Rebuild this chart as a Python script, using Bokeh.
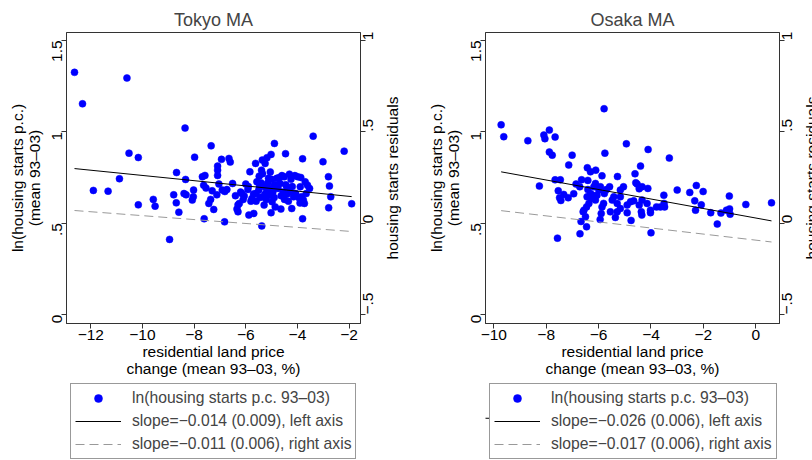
import math
import numpy as np
from bokeh.plotting import figure
from bokeh.models import Range1d, LinearAxis, FixedTicker, Legend, LegendItem
from bokeh.core.properties import value
from bokeh.layouts import row, column
from bokeh.embed import file_html
from bokeh.resources import INLINE

FONT = "Liberation Sans"

# ---------------- data ----------------
tokyo_x = [
    -12.63, -12.32, -10.60, -10.52, -10.16, -10.89, -11.90, -11.33, -10.16, -9.58,
    -9.51, -8.95, -8.79, -8.68, -8.69, -8.59, -8.39, -8.31, -8.33, -8.35,
    -8.07, -8.02, -8.03, -7.98, -7.68, -7.58, -7.61, -7.63, -7.54, -7.43,
    -7.36, -7.24, -7.34, -7.30, -7.12, -7.09, -7.09, -7.09, -6.94, -7.04,
    -6.91, -6.81, -6.73, -6.82, -6.65, -6.60, -6.51, -6.34, -6.30, -6.25,
    -6.15, -6.06, -6.00, -5.92, -5.84, -5.88, -5.76, -5.69, -5.61, -5.62,
    -5.57, -5.48, -5.47, -5.39, -5.36, -5.25, -5.18, -5.02, -5.38, -5.34,
    -5.29, -5.18, -5.12, -5.05, -5.02, -4.98, -4.90, -4.86, -4.80, -4.67,
    -4.63, -4.64, -4.51, -4.41, -4.46, -4.31, -4.28, -4.22, -4.15, -4.07,
    -3.99, -3.89, -3.87, -3.80, -3.80, -3.77, -3.73, -3.70, -3.61, -3.53,
    -3.66, -3.84, -3.01, -2.80, -2.76, -2.71, -2.79, -2.19, -1.90, -3.39,
    -4.89,
    -5.70, -5.60, -5.50, -5.45, -5.40, -5.30, -5.25, -5.20, -5.15, -5.10,
    -5.00, -4.95, -4.90, -4.85, -4.75, -4.70, -4.60, -4.55, -4.50, -4.40,
    -4.35, -4.25, -4.20, -4.10, -3.95, -3.90, -6.20, -6.10, -6.30, -5.90,
    -5.80, -6.40, -5.35, -5.05, -4.45,
]
tokyo_y = [
    1.325, 1.153, 1.294, 0.883, 0.859, 0.743, 0.679, 0.675, 0.600, 0.630,
    0.593, 0.411, 0.655, 0.777, 0.611, 0.560, 0.662, 0.655, 0.739, 1.020,
    0.626, 0.681, 0.644, 0.861, 0.754, 0.761, 0.524, 0.708, 0.692, 0.608,
    0.630, 0.575, 0.923, 0.677, 0.655, 0.812, 0.790, 0.761, 0.849, 0.714,
    0.681, 0.673, 0.684, 0.507, 0.854, 0.834, 0.717, 0.577, 0.562, 0.608,
    0.662, 0.648, 0.714, 0.684, 0.781, 0.544, 0.635, 0.553, 0.662, 0.827,
    0.726, 0.757, 0.699, 0.790, 0.845, 0.827, 0.858, 0.876, 0.485, 0.644,
    0.599, 0.681, 0.745, 0.653, 0.557, 0.617, 0.708, 0.589, 0.745, 0.717,
    0.650, 0.577, 0.754, 0.699, 0.880, 0.768, 0.672, 0.580, 0.644, 0.662,
    0.754, 0.699, 0.750, 0.524, 0.852, 0.626, 0.608, 0.726, 0.708, 0.690,
    0.662, 0.644, 0.836, 0.754, 0.703, 0.644, 0.584, 0.894, 0.606, 0.976,
    0.936,
    0.66, 0.62, 0.68, 0.64, 0.72, 0.70, 0.66, 0.63, 0.72, 0.69,
    0.74, 0.67, 0.64, 0.71, 0.69, 0.75, 0.76, 0.67, 0.63, 0.66,
    0.62, 0.74, 0.70, 0.76, 0.64, 0.61, 0.67, 0.63, 0.60, 0.70,
    0.62, 0.65, 0.77, 0.78, 0.71,
]

osaka_x = [
    -9.72, -9.62, -8.70, -8.09, -8.05, -7.88, -7.66, -7.88, -7.77, -7.01,
    -7.14, -5.79, -5.76, -4.94, -4.11, -3.30, -4.40, -8.26, -7.66, -7.46,
    -7.54, -7.49, -7.44, -7.33, -7.16, -6.95, -6.86, -6.72, -6.65, -6.43,
    -6.31, -6.11, -6.41, -5.87, -5.28, -4.61, -4.58, -4.53, -4.45, -4.34,
    -4.12, -7.57, -6.71, -6.46, -6.67, -5.94, -5.36, -4.76, -4.00, -4.02,
    -3.00, -2.52, -2.27, -2.01, -2.33, -2.30, -2.08, -1.72, -1.47, -1.33,
    -1.12, -1.01, -1.00, -0.98, -0.38, 0.60, -3.51, -3.50, -3.48, -3.79,
    -3.64, -4.02, -4.37, -4.35, -4.34, -4.45, -4.66, -4.78, -4.91, -5.17,
    -5.29, -5.48, -5.42, -5.17, -5.55, -5.58, -5.70, -5.78, -5.81, -5.87,
    -5.90, -5.93, -5.99, -6.06, -6.12, -6.18, -6.23, -6.28, -6.37, -6.44,
    -6.46, -6.56, -6.59, -6.50, -6.41, -6.31, -6.12, -5.05, -5.29, -4.91,
    -4.15, -5.17,
]
osaka_y = [
    1.038, 0.973, 0.951, 0.982, 0.962, 1.009, 0.971, 0.889, 0.872, 0.872,
    0.818, 1.126, 0.883, 0.934, 0.903, 0.856, 0.812, 0.703, 0.737, 0.737,
    0.677, 0.639, 0.624, 0.657, 0.639, 0.661, 0.714, 0.699, 0.737, 0.803,
    0.781, 0.790, 0.734, 0.759, 0.755, 0.770, 0.721, 0.714, 0.688, 0.699,
    0.690, 0.418, 0.442, 0.480, 0.509, 0.520, 0.531, 0.515, 0.447, 0.557,
    0.681, 0.668, 0.706, 0.673, 0.622, 0.571, 0.600, 0.557, 0.495, 0.555,
    0.571, 0.648, 0.578, 0.549, 0.602, 0.611, 0.653, 0.608, 0.589, 0.589,
    0.589, 0.571, 0.562, 0.544, 0.626, 0.599, 0.622, 0.617, 0.557, 0.580,
    0.562, 0.626, 0.644, 0.644, 0.562, 0.699, 0.684, 0.662, 0.608, 0.589,
    0.553, 0.699, 0.681, 0.653, 0.626, 0.699, 0.653, 0.635, 0.608, 0.644,
    0.589, 0.571, 0.562, 0.535, 0.684, 0.662, 0.717, 0.699, 0.608, 0.599,
    0.608, 0.681,
]

# fitted lines (intercept, slope)
tokyo_fit_left = [0.618, -0.0143]
tokyo_fit_right = [-0.066, -0.0107]
osaka_fit_left = [0.528, -0.0260]
osaka_fit_right = [-0.093, -0.0166]

left_ticks = [0, 0.5, 1, 1.5]
left_tick_labels = ["0", ".5", "1", "1.5"]
right_ticks = [-0.5, 0, 0.5, 1]
right_tick_labels = ["\u2212.5", "0", ".5", "1"]

tokyo_x_ticks = [-12, -10, -8, -6, -4, -2]
tokyo_x_tick_labels = ["\u221212", "\u221210", "\u22128", "\u22126", "\u22124", "\u22122"]
osaka_x_ticks = [-10, -8, -6, -4, -2, 0]
osaka_x_tick_labels = ["\u221210", "\u22128", "\u22126", "\u22124", "\u22122", "0"]

tokyo_legend = ["ln(housing starts p.c. 93\u201303)",
                "slope=\u22120.014 (0.009), left axis",
                "slope=\u22120.011 (0.006), right axis"]
osaka_legend = ["ln(housing starts p.c. 93\u201303)",
                "slope=\u22120.026 (0.006), left axis",
                "slope=\u22120.017 (0.006), right axis"]

x_title = "residential land price\nchange (mean 93\u201303, %)"
left_title = "ln(housing starts p.c.)\n(mean 93\u201303)"
right_title = "housing starts residuals"

LEFT_RANGE = (-0.049, 1.543)
RIGHT_RANGE = (-0.549, 1.043)
MAIN_H = 380
LEG_H = 80
TOTAL_H = MAIN_H + LEG_H
FRAME_TOP = 32
FRAME_BOTTOM = 323

DOT = dict(size=7, fill_color="#0000ff", line_color="#0000ff", line_width=0.5)
SOLID = dict(line_color="black", line_width=1)
DASHED = dict(line_color="#999999", line_width=1, line_dash="9 5")


def style_axis(ax, ticks, labels):
    ax.ticker = FixedTicker(ticks=ticks)
    ax.major_label_overrides = dict(zip(ticks, labels))
    ax.major_tick_in = 0
    ax.major_tick_out = 5
    ax.minor_tick_in = 0
    ax.minor_tick_out = 0
    ax.axis_line_color = "#333333"
    ax.major_tick_line_color = "#333333"
    ax.major_label_text_font = FONT
    ax.major_label_text_font_size = "15.5px"
    ax.major_label_text_color = "black"
    ax.axis_label_text_font = FONT
    ax.axis_label_text_font_size = "15.5px"
    ax.axis_label_text_font_style = "normal"
    ax.axis_label_text_color = "black"
    ax.axis_label_text_line_height = 1.0


def fit_lines(xs, fit_l, fit_r):
    xx = np.array([min(xs), max(xs)])
    return xx, fit_l[0] + fit_l[1] * xx, fit_r[0] + fit_r[1] * xx


def make_panel(title, xs, ys, xr, xticks, xlabels, fit_l, fit_r, width):
    p = figure(width=width, height=MAIN_H, title=title,
               x_range=Range1d(*xr), y_range=Range1d(*LEFT_RANGE),
               output_backend="svg", toolbar_location=None,
               min_border_left=66, min_border_right=width - 66 - 294,
               min_border_top=FRAME_TOP, min_border_bottom=MAIN_H - FRAME_BOTTOM)
    p.extra_y_ranges = {"right": Range1d(*RIGHT_RANGE)}
    p.grid.visible = False
    p.outline_line_color = "#333333"
    p.background_fill_color = "white"
    p.border_fill_color = "white"

    p.title.text_font = FONT
    p.title.text_font_size = "18px"
    p.title.text_font_style = "normal"
    p.title.align = "center"
    p.title.standoff = 6

    xa = p.xaxis[0]
    style_axis(xa, xticks, xlabels)
    xa.axis_label = x_title
    xa.major_label_standoff = 1
    xa.axis_label_standoff = 0

    ya = p.yaxis[0]
    style_axis(ya, left_ticks, left_tick_labels)
    ya.axis_label = left_title
    ya.major_label_orientation = math.pi / 2
    ya.major_label_standoff = 4
    ya.axis_label_standoff = 2

    ra = LinearAxis(y_range_name="right")
    style_axis(ra, right_ticks, right_tick_labels)
    ra.major_label_orientation = math.pi / 2
    ra.major_label_standoff = 3
    p.add_layout(ra, "right")

    xx, yl, yr = fit_lines(xs, fit_l, fit_r)
    p.scatter(xs, ys, **DOT)
    p.line(xx, yl, **SOLID)
    p.line(xx, yr, y_range_name="right", **DASHED)
    return p


def make_legend_fig(texts, width, xs, ys, fit_l, fit_r):
    # the legend keys re-use the series; the view range keeps those marks out of sight
    lf = figure(width=width, height=LEG_H, x_axis_type=None, y_axis_type=None,
                x_range=Range1d(0, 1), y_range=Range1d(0, 1),
                output_backend="svg", toolbar_location=None, min_border=0)
    lf.outline_line_color = None
    lf.border_fill_color = "white"
    lf.background_fill_color = "white"
    xx, yl, yr = fit_lines(xs, fit_l, fit_r)
    r0 = lf.scatter(xs, ys, **dict(DOT, size=5.5))
    r1 = lf.line(xx, yl, **SOLID)
    r2 = lf.line(xx, yr, **DASHED)
    legend = Legend(items=[LegendItem(label=texts[0], renderers=[r0]),
                           LegendItem(label=texts[1], renderers=[r1]),
                           LegendItem(label=texts[2], renderers=[r2])],
                    location=(4, 1), orientation="vertical",
                    border_line_color="#333333", border_line_width=1,
                    background_fill_color="white", background_fill_alpha=1,
                    padding=4, spacing=3, margin=0,
                    glyph_width=46, glyph_height=20, label_height=20,
                    label_standoff=11,
                    label_text_font=FONT, label_text_font_size="15.7px")
    lf.add_layout(legend)
    return lf


def make_side_title(width, x_pos):
    f = figure(width=width, height=TOTAL_H, x_axis_type=None, y_axis_type=None,
               x_range=Range1d(0, width), y_range=Range1d(*LEFT_RANGE),
               output_backend="svg", toolbar_location=None, min_border=0,
               min_border_top=FRAME_TOP, min_border_bottom=TOTAL_H - FRAME_BOTTOM)
    f.outline_line_color = None
    f.text(x=[x_pos], y=[sum(LEFT_RANGE) / 2], text=[right_title],
           angle=math.pi / 2, text_align="center", text_baseline="middle",
           text_font=value(FONT), text_font_size="15.5px", text_color="black")
    return f


TOKYO_W = 385
TOKYO_TITLE_W = 34
OSAKA_W = 386
EDGE_W = 812 - TOKYO_W - TOKYO_TITLE_W - OSAKA_W

p1 = make_panel("Tokyo MA", tokyo_x, tokyo_y, (-12.94, -1.558),
                tokyo_x_ticks, tokyo_x_tick_labels, tokyo_fit_left, tokyo_fit_right,
                TOKYO_W)
p2 = make_panel("Osaka MA", osaka_x, osaka_y, (-10.317, 0.905),
                osaka_x_ticks, osaka_x_tick_labels, osaka_fit_left, osaka_fit_right,
                OSAKA_W)
l1 = make_legend_fig(tokyo_legend, TOKYO_W, tokyo_x, tokyo_y, tokyo_fit_left, tokyo_fit_right)
l2 = make_legend_fig(osaka_legend, OSAKA_W, osaka_x, osaka_y, osaka_fit_left, osaka_fit_right)

t1 = make_side_title(TOKYO_TITLE_W, 7)
# Osaka's right-axis title sits on the page edge and is cut there, as in the source
t2 = make_side_title(EDGE_W, EDGE_W - 1)

layout = row(column(p1, l1), t1, column(p2, l2), t2)
open("out.html", "w").write(file_html(layout, INLINE))
